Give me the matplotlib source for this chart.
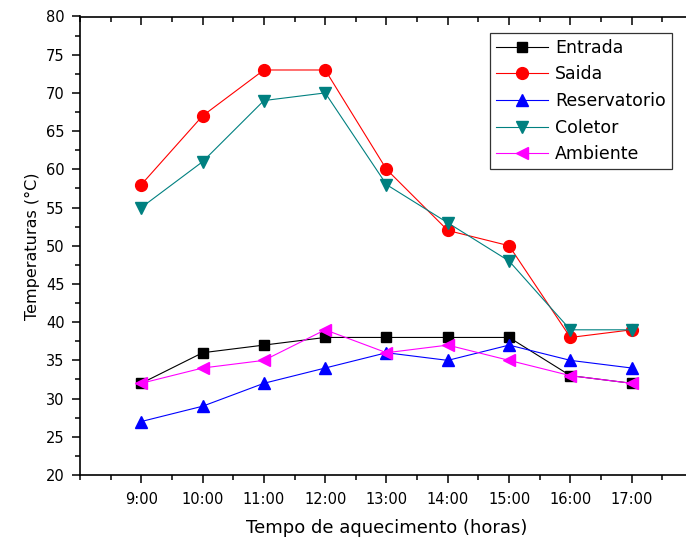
import matplotlib.pyplot as plt
from matplotlib.ticker import MultipleLocator

hours = ["9:00", "10:00", "11:00", "12:00", "13:00", "14:00", "15:00", "16:00", "17:00"]
x_pos = [9, 10, 11, 12, 13, 14, 15, 16, 17]
entrada = [32, 36, 37, 38, 38, 38, 38, 33, 32]
saida = [58, 67, 73, 73, 60, 52, 50, 38, 39]
reservatorio = [27, 29, 32, 34, 36, 35, 37, 35, 34]
coletor = [55, 61, 69, 70, 58, 53, 48, 39, 39]
ambiente = [32, 34, 35, 39, 36, 37, 35, 33, 32]

plt.rcParams["font.family"] = ["DejaVu Sans"]

fig = plt.figure(figsize=(6.86, 5.41), dpi=100)
# axes run to 18:00, which falls just past the right edge of the picture
ax = fig.add_axes([80 / 686, 66 / 541, 613 / 686, 458.5 / 541])

series = [
    ("Entrada", entrada, "black", "s", 7.5),
    ("Saida", saida, "red", "o", 8.5),
    ("Reservatorio", reservatorio, "blue", "^", 9),
    ("Coletor", coletor, "#008080", "v", 9),
    ("Ambiente", ambiente, "magenta", "<", 9),
]
for name, vals, color, marker, ms in series:
    ax.plot(x_pos, vals, color=color, marker=marker, markersize=ms,
            linewidth=0.8, label=name)

ax.set_xlim(8, 18)
ax.set_ylim(20, 80)
ax.set_xticks(x_pos)
ax.set_xticklabels(hours)
ax.xaxis.set_minor_locator(MultipleLocator(0.5))
ax.yaxis.set_major_locator(MultipleLocator(5))
ax.yaxis.set_minor_locator(MultipleLocator(2.5))

for side in ax.spines:
    ax.spines[side].set_linewidth(1.2)

ax.tick_params(which="both", direction="out", width=1.1, labelsize=10.5,
               top=True, right=True)
ax.tick_params(which="major", length=6)
ax.tick_params(which="minor", length=3.5)
ax.tick_params(axis="x", pad=6)
ax.tick_params(axis="y", pad=5, labelsize=10.5)
# mirrored ticks on top/right point inward
for tick in ax.xaxis.get_major_ticks() + ax.xaxis.get_minor_ticks():
    tick.tick2line.set_marker(3)
for tick in ax.yaxis.get_major_ticks() + ax.yaxis.get_minor_ticks():
    tick.tick2line.set_marker(1)

ax.set_xlabel("Tempo de aquecimento (horas)", fontsize=13, labelpad=9)
ax.set_ylabel("Temperaturas (°C)", fontsize=11.5, labelpad=4)

leg = ax.legend(loc="upper left", bbox_to_anchor=(410 / 613, 1 - 16 / 458.5),
                fontsize=12.5, frameon=True, fancybox=False, edgecolor="black",
                handlelength=3.0, borderpad=0.35, labelspacing=0.5,
                handletextpad=0.4, borderaxespad=0)
leg.get_frame().set_linewidth(0.9)

fig.savefig("out.png", dpi=100)
